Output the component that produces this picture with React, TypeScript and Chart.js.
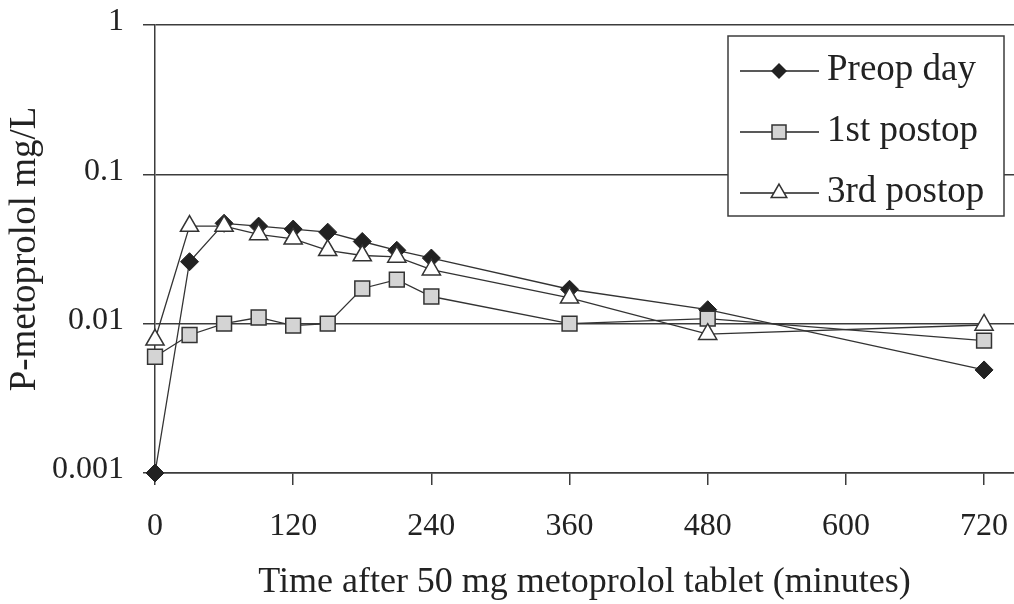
import React, { useEffect, useRef } from 'react';
import { Chart, registerables } from 'chart.js';

Chart.register(...registerables);

// ---- data ----
const times = [0, 30, 60, 90, 120, 150, 180, 210, 240, 360, 480, 720];
const preopDay = [0.001, 0.026, 0.047, 0.045, 0.043, 0.041, 0.0355, 0.031, 0.0275, 0.017, 0.0124, 0.0049];
const firstPostop = [0.006, 0.0084, 0.01, 0.011, 0.0097, 0.01, 0.0172, 0.0197, 0.0152, 0.01, 0.0108, 0.0077];
const thirdPostop = [0.0078, 0.045, 0.045, 0.0396, 0.037, 0.031, 0.0286, 0.028, 0.023, 0.0149, 0.0085, 0.0098];
const seriesLabels = ['Preop day', '1st postop', '3rd postop'];
const xTickValues = [0, 120, 240, 360, 480, 600, 720];
const yTickValues = [0.001, 0.01, 0.1, 1];
const yTickLabels = ['0.001', '0.01', '0.1', '1'];
const xTitle = 'Time after 50 mg metoprolol tablet (minutes)';
const yTitle = 'P-metoprolol mg/L';

const FONT = '"Liberation Serif", "Times New Roman", serif';
const AXIS = '#3c3c3c';

function drawMarker(ctx: CanvasRenderingContext2D, style: string, x: number, y: number) {
  ctx.beginPath();
  if (style === 'rectRot') {
    const r = 8;
    ctx.moveTo(x, y - r);
    ctx.lineTo(x + r, y);
    ctx.lineTo(x, y + r);
    ctx.lineTo(x - r, y);
    ctx.closePath();
    ctx.fillStyle = '#222';
    ctx.fill();
  } else if (style === 'rect') {
    const h = 7;
    ctx.rect(x - h, y - h, 2 * h, 2 * h);
    ctx.fillStyle = '#d4d4d4';
    ctx.fill();
    ctx.lineWidth = 1.5;
    ctx.strokeStyle = '#333';
    ctx.stroke();
  } else {
    const r = 9;
    ctx.moveTo(x, y - r);
    ctx.lineTo(x + r * Math.sin(Math.PI / 3), y + r / 2);
    ctx.lineTo(x - r * Math.sin(Math.PI / 3), y + r / 2);
    ctx.closePath();
    ctx.fillStyle = '#fff';
    ctx.fill();
    ctx.lineWidth = 1.5;
    ctx.strokeStyle = '#333';
    ctx.stroke();
  }
}

const boxLegend = {
  id: 'boxLegend',
  afterDraw(chart: any) {
    const ctx: CanvasRenderingContext2D = chart.ctx;
    const w = 276;
    const h = 180;
    const left = chart.chartArea.right - 10 - w;
    const top = chart.chartArea.top + 11;
    ctx.save();
    ctx.fillStyle = '#fff';
    ctx.fillRect(left, top, w, h);
    ctx.lineWidth = 1.5;
    ctx.strokeStyle = AXIS;
    ctx.strokeRect(left, top, w, h);
    const rowGap = 61;
    chart.data.datasets.forEach((ds: any, i: number) => {
      const ry = top + 35 + i * rowGap;
      ctx.beginPath();
      ctx.moveTo(left + 12, ry);
      ctx.lineTo(left + 91, ry);
      ctx.lineWidth = 1.5;
      ctx.strokeStyle = '#222';
      ctx.stroke();
      drawMarker(ctx, ds.pointStyle, left + 51, ry);
      ctx.fillStyle = '#222';
      ctx.font = `37px ${FONT}`;
      ctx.textBaseline = 'middle';
      ctx.textAlign = 'left';
      ctx.fillText(ds.label, left + 99, ry - 1);
    });
    ctx.restore();
  },
};

export default function App() {
  const ref = useRef<HTMLCanvasElement>(null);
  useEffect(() => {
    document.body.style.margin = '0';
    const canvas = ref.current;
    if (!canvas) return;
    const mk = (vals: number[]) => times.map((t, i) => ({ x: t, y: vals[i] }));
    const chart = new Chart(canvas, {
      type: 'line',
      data: {
        datasets: [
          {
            label: seriesLabels[0],
            data: mk(preopDay),
            borderColor: '#333',
            borderWidth: 1.3,
            pointStyle: 'rectRot',
            pointRadius: 9,
            pointBackgroundColor: '#222',
            pointBorderColor: '#222',
            pointBorderWidth: 1,
            order: 3,
            clip: false,
          },
          {
            label: seriesLabels[1],
            data: mk(firstPostop),
            borderColor: '#333',
            borderWidth: 1.3,
            pointStyle: 'rect',
            pointRadius: 10.5,
            pointBackgroundColor: '#d4d4d4',
            pointBorderColor: '#333',
            pointBorderWidth: 1.5,
            order: 2,
            clip: false,
          },
          {
            label: seriesLabels[2],
            data: mk(thirdPostop),
            borderColor: '#333',
            borderWidth: 1.3,
            pointStyle: 'triangle',
            pointRadius: 10.5,
            pointBackgroundColor: '#fff',
            pointBorderColor: '#333',
            pointBorderWidth: 1.5,
            order: 1,
            clip: false,
          },
        ] as any,
      },
      options: {
        responsive: false,
        animation: false,
        layout: { autoPadding: false, padding: { top: 25, right: 0, left: 0, bottom: 0 } },
        plugins: { legend: { display: false }, tooltip: { enabled: false } },
        scales: {
          x: {
            type: 'linear',
            min: 0,
            max: 746,
            afterBuildTicks: (s: any) => {
              s.ticks = xTickValues.map((v) => ({ value: v }));
            },
            afterFit: (s: any) => {
              s.height = 131;
              s.paddingLeft = 0;
              s.paddingRight = 0;
            },
            grid: { drawOnChartArea: false, drawTicks: true, tickLength: 12, color: AXIS, lineWidth: 1.5 },
            border: { color: AXIS, width: 1.5 },
            ticks: {
              font: { family: FONT, size: 32 },
              color: '#222',
              padding: 22,
              maxRotation: 0,
              autoSkip: false,
              callback: (v: any) => String(v),
            },
            title: {
              display: true,
              text: xTitle,
              font: { family: FONT, size: 36 },
              color: '#222',
              padding: { top: 0, bottom: 0 },
            },
          },
          y: {
            type: 'logarithmic',
            min: 0.001,
            max: 1,
            afterBuildTicks: (s: any) => {
              s.ticks = yTickValues.map((v) => ({ value: v }));
            },
            afterFit: (s: any) => {
              s.width = 155;
              s.paddingTop = 0;
              s.paddingBottom = 0;
            },
            grid: { color: AXIS, lineWidth: 1.5, tickLength: 12, drawTicks: true },
            border: { color: AXIS, width: 1.5 },
            ticks: {
              font: { family: FONT, size: 32 },
              color: '#222',
              padding: 19,
              labelOffset: -3,
              autoSkip: false,
              callback: (v: any) => {
                const idx = yTickValues.findIndex((t) => Math.abs(t - v) / t < 1e-6);
                return idx >= 0 ? yTickLabels[idx] : '';
              },
            },
            title: {
              display: true,
              text: yTitle,
              font: { family: FONT, size: 37 },
              color: '#222',
              padding: { top: 3, bottom: 0 },
            },
          },
        },
      } as any,
      plugins: [boxLegend],
    });
    return () => chart.destroy();
  }, []);
  return <canvas ref={ref} width={1014} height={604} style={{ display: 'block' }} />;
}
